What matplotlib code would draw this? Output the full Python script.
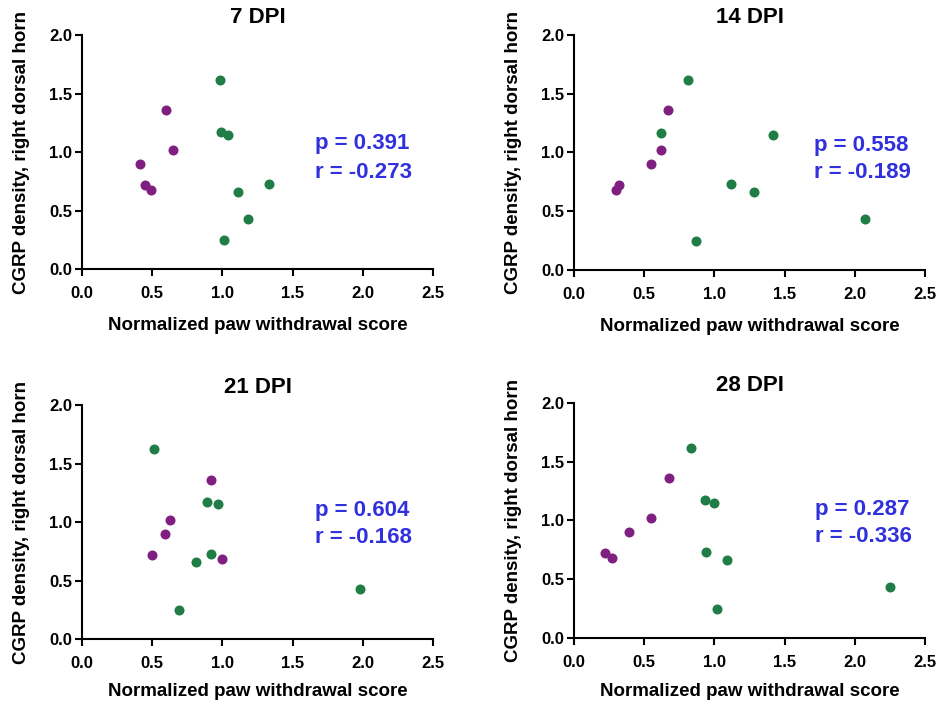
import matplotlib
matplotlib.use("Agg")
import matplotlib.pyplot as plt

plt.rcParams["font.family"] = ["Liberation Sans", "DejaVu Sans"]
plt.rcParams["font.weight"] = "bold"

PURPLE = "#7f1f80"
GREEN = "#1f7d45"
STAT_BLUE = "#3030dd"

# CGRP density is the same per animal across timepoints
purple_cgrp = [1.36, 1.02, 0.90, 0.72, 0.68]
green_cgrp = [1.62, 1.17, 1.15, 0.73, 0.66, 0.43, 0.25]

titles = ["7 DPI", "14 DPI", "21 DPI", "28 DPI"]

purple_paw = [
    [0.60, 0.65, 0.41, 0.45, 0.49],
    [0.67, 0.62, 0.55, 0.32, 0.30],
    [0.92, 0.63, 0.59, 0.50, 1.00],
    [0.68, 0.55, 0.39, 0.22, 0.27],
]
green_paw = [
    [0.98, 0.99, 1.04, 1.33, 1.11, 1.18, 1.01],
    [0.81, 0.62, 1.42, 1.12, 1.28, 2.07, 0.87],
    [0.51, 0.89, 0.97, 0.92, 0.81, 1.98, 0.69],
    [0.83, 0.93, 1.00, 0.94, 1.09, 2.25, 1.02],
]

p_values = ["0.391", "0.558", "0.604", "0.287"]
r_values = ["-0.273", "-0.189", "-0.168", "-0.336"]

# panel rectangles in figure fractions
rects = [
    [0.0871, 0.6175, 0.373, 0.3328],
    [0.6100, 0.6165, 0.373, 0.3338],
    [0.0871, 0.0923, 0.373, 0.3324],
    [0.6100, 0.0938, 0.373, 0.3338],
]
stat_pos = [(1.66, 1.07, 0.83), (1.71, 1.06, 0.83), (1.66, 1.10, 0.87), (1.72, 1.09, 0.86)]
xlabel_y = [-0.205, -0.205, -0.19, -0.19]

fig = plt.figure(figsize=(9.41, 7.04), dpi=100)

for i in range(4):
    ax = fig.add_axes(rects[i])
    ax.scatter(purple_paw[i], purple_cgrp, s=52, color=PURPLE, zorder=3, linewidths=0)
    ax.scatter(green_paw[i], green_cgrp, s=52, color=GREEN, zorder=3, linewidths=0)

    ax.set_xlim(0, 2.5)
    ax.set_ylim(0, 2.0)
    ax.set_xticks([0, 0.5, 1.0, 1.5, 2.0, 2.5])
    ax.set_yticks([0, 0.5, 1.0, 1.5, 2.0])
    ax.xaxis.set_major_formatter(matplotlib.ticker.FormatStrFormatter("%.1f"))
    ax.yaxis.set_major_formatter(matplotlib.ticker.FormatStrFormatter("%.1f"))

    for side in ["top", "right"]:
        ax.spines[side].set_visible(False)
    for side in ["left", "bottom"]:
        ax.spines[side].set_linewidth(1.5)
    ax.tick_params(direction="out", length=5, width=1.5, labelsize=12)
    ax.tick_params(axis="x", pad=7)
    ax.tick_params(axis="y", pad=2)
    for lbl in ax.get_xticklabels() + ax.get_yticklabels():
        lbl.set_fontweight("bold")

    ax.set_xlabel("Normalized paw withdrawal score", fontsize=13.5, fontweight="bold")
    ax.xaxis.set_label_coords(0.5, xlabel_y[i])
    ax.set_ylabel("CGRP density, right dorsal horn", fontsize=13.5, fontweight="bold")
    ax.yaxis.set_label_coords(-0.148, 0.5)

    ax.text(0.5, 1.075, titles[i], transform=ax.transAxes, ha="center", va="center",
            fontsize=16, fontweight="bold")

    sx, py, ry = stat_pos[i]
    ax.text(sx, py, f"p = {p_values[i]}", color=STAT_BLUE, fontsize=16,
            fontweight="bold", ha="left", va="center")
    ax.text(sx, ry, f"r = {r_values[i]}", color=STAT_BLUE, fontsize=16,
            fontweight="bold", ha="left", va="center")

fig.savefig("out.png", dpi=100, facecolor="white")
